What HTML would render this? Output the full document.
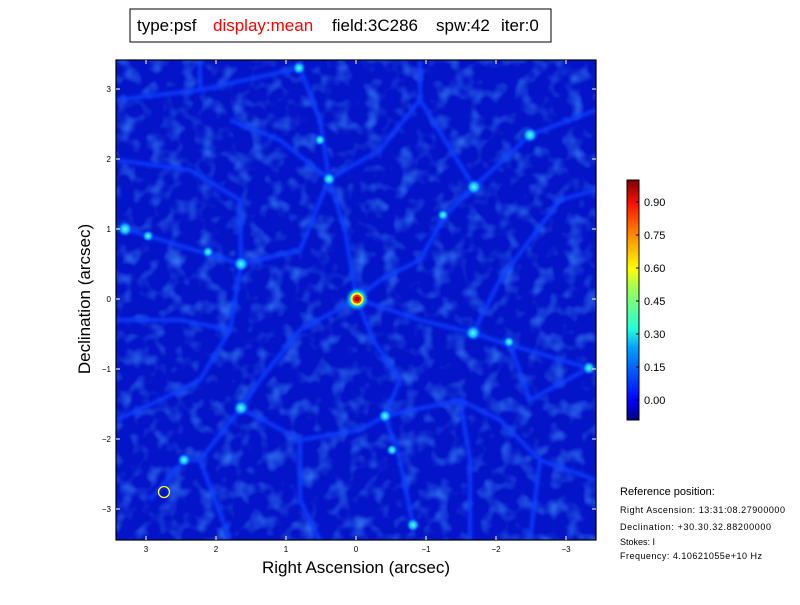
<!DOCTYPE html>
<html><head><style>
body{margin:0;background:#fff;width:800px;height:600px;overflow:hidden;font-family:"Liberation Sans","DejaVu Sans",sans-serif}
</style></head><body>
<svg width="800" height="600" viewBox="0 0 800 600" xmlns="http://www.w3.org/2000/svg" font-family="Liberation Sans, DejaVu Sans, sans-serif">
<defs>
<filter id="b" x="-20%" y="-20%" width="140%" height="140%"><feGaussianBlur stdDeviation="1.6"/></filter>
<filter id="b2"><feGaussianBlur stdDeviation="1.8"/></filter>
<filter id="noise" x="0" y="0" width="100%" height="100%">
<feTurbulence type="fractalNoise" baseFrequency="0.06" numOctaves="2" seed="4"/>
<feColorMatrix type="matrix" values="0 0 0 0 0.05  0 0 0 0 0.3  0 0 0 0 1  0 0 0 1.6 -0.75"/>
</filter>
<radialGradient id="spot"><stop offset="0" stop-color="#60ffe0"/><stop offset="0.5" stop-color="#10b0ff"/><stop offset="1" stop-color="#0030ff" stop-opacity="0"/></radialGradient>
<linearGradient id="cb" x1="0" y1="1" x2="0" y2="0">
<stop offset="0" stop-color="#000080"/><stop offset="0.08" stop-color="#0000ff"/><stop offset="0.3" stop-color="#00a0ff"/><stop offset="0.38" stop-color="#20ffd8"/><stop offset="0.55" stop-color="#a0ff50"/><stop offset="0.63" stop-color="#ffff00"/><stop offset="0.8" stop-color="#ff7000"/><stop offset="0.9" stop-color="#ff1000"/><stop offset="1" stop-color="#800000"/></linearGradient>
<clipPath id="c"><rect x="116" y="60" width="480" height="480"/></clipPath>
</defs>
<rect x="130" y="9" width="421" height="33" fill="#fff" stroke="#000"/>
<text y="31" font-size="17"><tspan x="137">type:psf</tspan><tspan x="213" fill="#ff0000">display:mean</tspan><tspan x="332">field:3C286</tspan><tspan x="436">spw:42</tspan><tspan x="501">iter:0</tspan></text>
<g clip-path="url(#c)">
<rect x="116" y="60" width="480" height="480" fill="#0414c8"/>
<rect x="116" y="60" width="480" height="480" filter="url(#noise)"/>
<g fill="none" stroke="#0a3cff" stroke-width="4" filter="url(#b2)" opacity="0.95">
<path d="M116 100 L200 90 L300 68 L320 120 L329 179 L300 250 L241 264 L148 236 L125 229"/>
<path d="M329 179 L380 150 L420 100 L474 187 L530 135 L596 110"/>
<path d="M329 179 L345 230 L357 299 L300 330 L260 380 L241 408 L200 460 L184 460 L150 500"/>
<path d="M474 187 L445 215 L420 260 L380 280 L357 299 L373 340 L400 380 L385 416 L400 460 L413 525"/>
<path d="M357 299 L420 320 L473 333 L510 345 L589 368"/>
<path d="M473 333 L500 280 L530 240 L560 200 L596 190"/>
<path d="M241 264 L230 330 L200 380 L160 400 L116 420"/>
<path d="M241 408 L300 440 L360 430 L385 416 L460 400 L500 420 L540 460 L596 480"/>
<path d="M116 320 L180 320 L230 330"/>
<path d="M300 440 L300 500 L320 540"/>
<path d="M460 400 L470 460 L470 540"/>
<path d="M116 160 L190 170 L240 200 L241 264"/>
<path d="M420 100 L420 60"/><path d="M200 90 L200 60"/>
<path d="M540 460 L530 540"/><path d="M200 460 L230 540"/>
<path d="M510 345 L530 400 L589 368"/>
<path d="M230 120 L280 140 L329 179"/>
</g>
<g fill="url(#spot)">
<circle cx="125" cy="229" r="8"/><circle cx="241" cy="264" r="8"/><circle cx="473" cy="333" r="8"/>
<circle cx="329" cy="179" r="7"/><circle cx="474" cy="187" r="8"/><circle cx="299" cy="68" r="7"/>
<circle cx="241" cy="408" r="8"/><circle cx="385" cy="416" r="7"/><circle cx="589" cy="368" r="7"/>
<circle cx="413" cy="525" r="7"/><circle cx="184" cy="460" r="7"/><circle cx="530" cy="135" r="8"/>
<circle cx="148" cy="236" r="6"/><circle cx="320" cy="140" r="6"/><circle cx="208" cy="252" r="6"/>
<circle cx="392" cy="450" r="6"/><circle cx="509" cy="342" r="6"/><circle cx="443" cy="215" r="6"/>
</g>
<circle cx="357" cy="299" r="9" fill="#00e0ff" filter="url(#b)"/>
<circle cx="357" cy="299" r="6.5" fill="#ffff00"/>
<circle cx="357" cy="299" r="4.5" fill="#ff3000"/>
<circle cx="357" cy="299" r="2.5" fill="#a00000"/>
<circle cx="164" cy="492" r="5.5" fill="none" stroke="#ffff00" stroke-width="1.3"/>
</g>
<rect x="116" y="60" width="480" height="480" fill="none" stroke="#000" stroke-width="1.2"/>
<g stroke="#fff" stroke-width="1">
<path d="M146 540v-4M216 540v-4M286 540v-4M356 540v-4M426 540v-4M496 540v-4M566 540v-4M146 60v4M216 60v4M286 60v4M356 60v4M426 60v4M496 60v4M566 60v4"/>
<path d="M116 89h4M116 159h4M116 229h4M116 299h4M116 369h4M116 439h4M116 509h4M596 89h-4M596 159h-4M596 229h-4M596 299h-4M596 369h-4M596 439h-4M596 509h-4"/>
</g>
<g font-size="8" fill="#000" text-anchor="middle">
<text x="146" y="552">3</text><text x="216" y="552">2</text><text x="286" y="552">1</text><text x="356" y="552">0</text><text x="426" y="552">−1</text><text x="496" y="552">−2</text><text x="566" y="552">−3</text>
</g>
<g font-size="8" fill="#000" text-anchor="end">
<text x="111" y="92">3</text><text x="111" y="162">2</text><text x="111" y="232">1</text><text x="111" y="302">0</text><text x="111" y="372">−1</text><text x="111" y="442">−2</text><text x="111" y="512">−3</text>
</g>
<text x="356" y="573" font-size="17" text-anchor="middle">Right Ascension (arcsec)</text>
<text transform="translate(90 299) rotate(-90)" font-size="17" text-anchor="middle">Declination (arcsec)</text>
<rect x="627" y="180" width="12" height="240" fill="url(#cb)" stroke="#000"/>
<g stroke="#000"><path d="M639 202h-3M639 235h-3M639 268h-3M639 301h-3M639 334h-3M639 367h-3M639 400h-3"/></g>
<g font-size="11" fill="#000">
<text x="644" y="206">0.90</text><text x="644" y="239">0.75</text><text x="644" y="272">0.60</text><text x="644" y="305">0.45</text><text x="644" y="338">0.30</text><text x="644" y="371">0.15</text><text x="644" y="404">0.00</text>
</g>
<text x="620" y="495" font-size="11">Reference position:</text>
<g font-size="9">
<text x="620" y="513" textLength="165">Right Ascension: 13:31:08.27900000</text>
<text x="620" y="530" textLength="151">Declination: +30.30.32.88200000</text>
<text x="620" y="545">Stokes: I</text>
<text x="620" y="559" textLength="142">Frequency: 4.10621055e+10 Hz</text>
</g>
</svg>
</body></html>
